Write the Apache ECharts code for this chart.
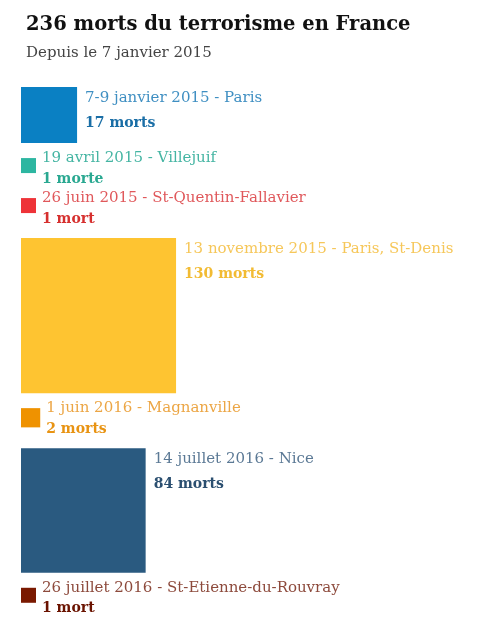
<!DOCTYPE html>
<html>
<head>
<meta charset="utf-8">
<script src="https://cdn.jsdelivr.net/npm/echarts@6/dist/echarts.min.js"></script>
<style>
  html, body { margin: 0; padding: 0; background: #fff; }
  #chart { width: 481px; height: 624px; }
</style>
</head>
<body>
<div id="chart"></div>
<script>
// data
const events = [
    '7-9 janvier 2015 - Paris',
    '19 avril 2015 - Villejuif',
    '26 juin 2015 - St-Quentin-Fallavier',
    '13 novembre 2015 - Paris, St-Denis',
    '1 juin 2016 - Magnanville',
    '14 juillet 2016 - Nice',
    '26 juillet 2016 - St-Etienne-du-Rouvray'
];
const deaths = [17, 1, 1, 130, 2, 84, 1];
const deathLabels = ['17 morts', '1 morte', '1 mort', '130 morts', '2 morts', '84 morts', '1 mort'];

// colours: square, date line, count line
const PALETTE = [
    ['#0a80c3', '#3f8fc2', '#1a6ea6'],
    ['#2db6a1', '#45b5a3', '#2aa891'],
    ['#ee3338', '#e0585b', '#d6302f'],
    ['#fec431', '#f6c75a', '#f2bb33'],
    ['#ef9200', '#eca645', '#e89312'],
    ['#2a5a80', '#5b7995', '#2b4f70'],
    ['#7a1900', '#8d4a3c', '#6a1300']
];

// layout (px units of the hidden axes)
const SCALE = 13.6;
const MIN_SIDE = 15;
const LEFT = 21;
const TOP0 = 87;

const sides = deaths.map(d => Math.max(MIN_SIDE, SCALE * Math.sqrt(d)));
const tops = [];
let acc = TOP0;
sides.forEach(s => {
    tops.push(acc);
    acc += Math.max(s, 25) + 15;
});

const chart = echarts.init(document.getElementById('chart'));

chart.setOption({
    animation: false,
    title: {
        text: '236 morts du terrorisme en France',
        subtext: 'Depuis le 7 janvier 2015',
        left: 21,
        top: 10,
        itemGap: 11,
        textStyle: {
            fontFamily: 'DejaVu Serif',
            fontWeight: 'bold',
            fontSize: 19.5,
            color: '#111'
        },
        subtextStyle: {
            fontFamily: 'DejaVu Serif',
            fontSize: 15,
            color: '#444'
        }
    },
    grid: { left: 0, right: 0, top: 0, bottom: 0 },
    xAxis: { type: 'value', min: 0, max: 481, show: false },
    yAxis: { type: 'value', min: 0, max: 624, inverse: true, show: false },
    series: [{
        type: 'custom',
        data: deaths.map((d, i) => [i, d]),
        renderItem(params, api) {
            const i = api.value(0);
            const side = sides[i];
            const top = tops[i];
            const p0 = api.coord([LEFT, top]);
            const p1 = api.coord([LEFT + side, top + side]);
            const big = side > 30;
            const tx = p1[0] + (big ? 8 : 6);
            const dateY = api.coord([0, top + (big ? 11 : 0)])[1];
            const countY = api.coord([0, top + (big ? 36 : 21)])[1];
            return {
                type: 'group',
                children: [{
                    type: 'rect',
                    shape: { x: p0[0], y: p0[1], width: p1[0] - p0[0], height: p1[1] - p0[1] },
                    style: { fill: PALETTE[i][0] }
                }, {
                    type: 'text',
                    x: tx,
                    y: dateY,
                    style: {
                        text: events[i],
                        fill: PALETTE[i][1],
                        font: '15px "DejaVu Serif"',
                        verticalAlign: 'middle'
                    }
                }, {
                    type: 'text',
                    x: tx,
                    y: countY,
                    style: {
                        text: deathLabels[i],
                        fill: PALETTE[i][2],
                        font: 'bold 14px "DejaVu Serif"',
                        verticalAlign: 'middle'
                    }
                }]
            };
        }
    }]
});
</script>
</body>
</html>
